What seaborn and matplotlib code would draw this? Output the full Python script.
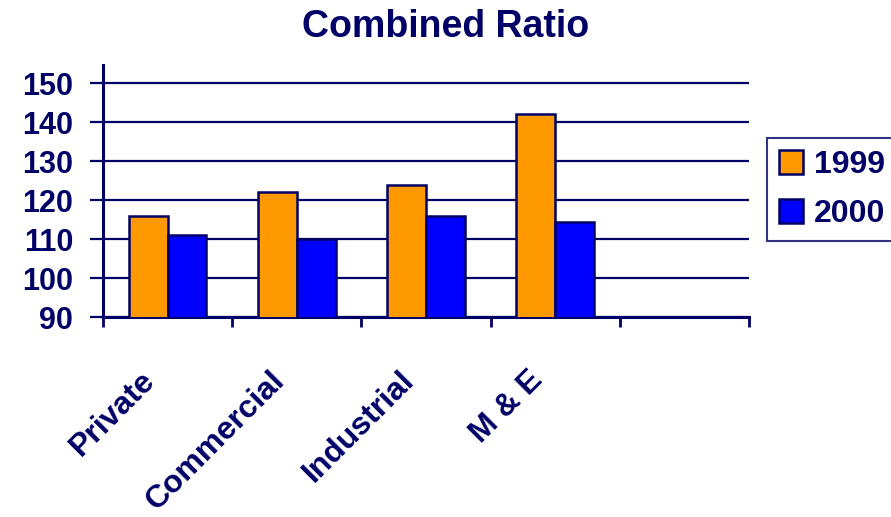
import pandas as pd
import numpy as np
import matplotlib.pyplot as plt
import matplotlib.transforms as mtransforms
import seaborn as sns

# Data
categories = ['Private', 'Commercial', 'Industrial', 'M & E']
ratio_1999 = [116, 122, 124, 142]
ratio_2000 = [111, 110, 116, 114.5]
years = ['1999', '2000']

df = pd.DataFrame({
    'category': categories * 2,
    'year': [years[0]] * len(categories) + [years[1]] * len(categories),
    'ratio': ratio_1999 + ratio_2000,
})

navy = '#000066'
palette = {'1999': '#FF9900', '2000': '#0000FF'}

sns.set_style('white')
plt.rcParams['font.family'] = ['Liberation Sans', 'DejaVu Sans']
plt.rcParams['font.weight'] = 'bold'

fig = plt.figure(figsize=(8.91, 5.17), dpi=100)
ax = fig.add_axes([0.1156, 0.386, 0.725, 0.488])

sns.barplot(data=df, x='category', y='ratio', hue='year', order=categories,
            palette=palette, width=0.6, edgecolor=navy, linewidth=1.8,
            saturation=1, ax=ax, zorder=3)

ax.set_ylim(90, 154.6)
ax.set_xlim(-0.5, 4.5)
ax.set_yticks(range(90, 151, 10))
ax.yaxis.grid(True, color=navy, linewidth=1.6, zorder=0)
ax.set_axisbelow(True)

# category boundaries as major ticks, labels at centres as minor ticks
ax.set_xticks(np.arange(-0.5, 5, 1))
ax.set_xticklabels([])
ax.set_xticks(range(len(categories)), minor=True)
ax.set_xticklabels(categories, minor=True, rotation=45, ha='right', va='baseline',
                   rotation_mode='anchor', fontsize=23, fontweight='bold', color=navy)
ax.tick_params(axis='x', which='minor', length=0, pad=46, bottom=True)
ax.tick_params(axis='x', which='major', length=7, width=2, color=navy,
               direction='out', bottom=True)
shift = mtransforms.ScaledTranslation(-0.11, 0, fig.dpi_scale_trans)
for lab in ax.get_xticklabels(minor=True):
    lab.set_transform(lab.get_transform() + shift)

ax.tick_params(axis='y', length=9.5, width=1.6, color=navy, labelsize=22,
               labelcolor=navy, pad=12, left=True)
for lab in ax.get_yticklabels():
    lab.set_fontweight('bold')

ax.set_xlabel('')
ax.set_ylabel('')
sns.despine(ax=ax)
for side in ['left', 'bottom']:
    ax.spines[side].set_color(navy)
    ax.spines[side].set_linewidth(2.2)

leg = ax.legend(title=None, loc='upper left', bbox_to_anchor=(767 / 891, 1 - 138 / 517),
                bbox_transform=fig.transFigure, borderaxespad=0,
                fontsize=23, frameon=True, fancybox=False, edgecolor=navy,
                handlelength=0.75, handleheight=0.75, handletextpad=0.35,
                labelspacing=0.6, borderpad=0.38, labelcolor=navy)
leg.get_frame().set_linewidth(1.5)
for t in leg.get_texts():
    t.set_fontweight('bold')

fig.text(0.5, 1 - 37 / 517, 'Combined Ratio', ha='center', va='baseline',
         fontsize=27, fontweight='bold', color=navy)

plt.savefig('out.png', dpi=100)
